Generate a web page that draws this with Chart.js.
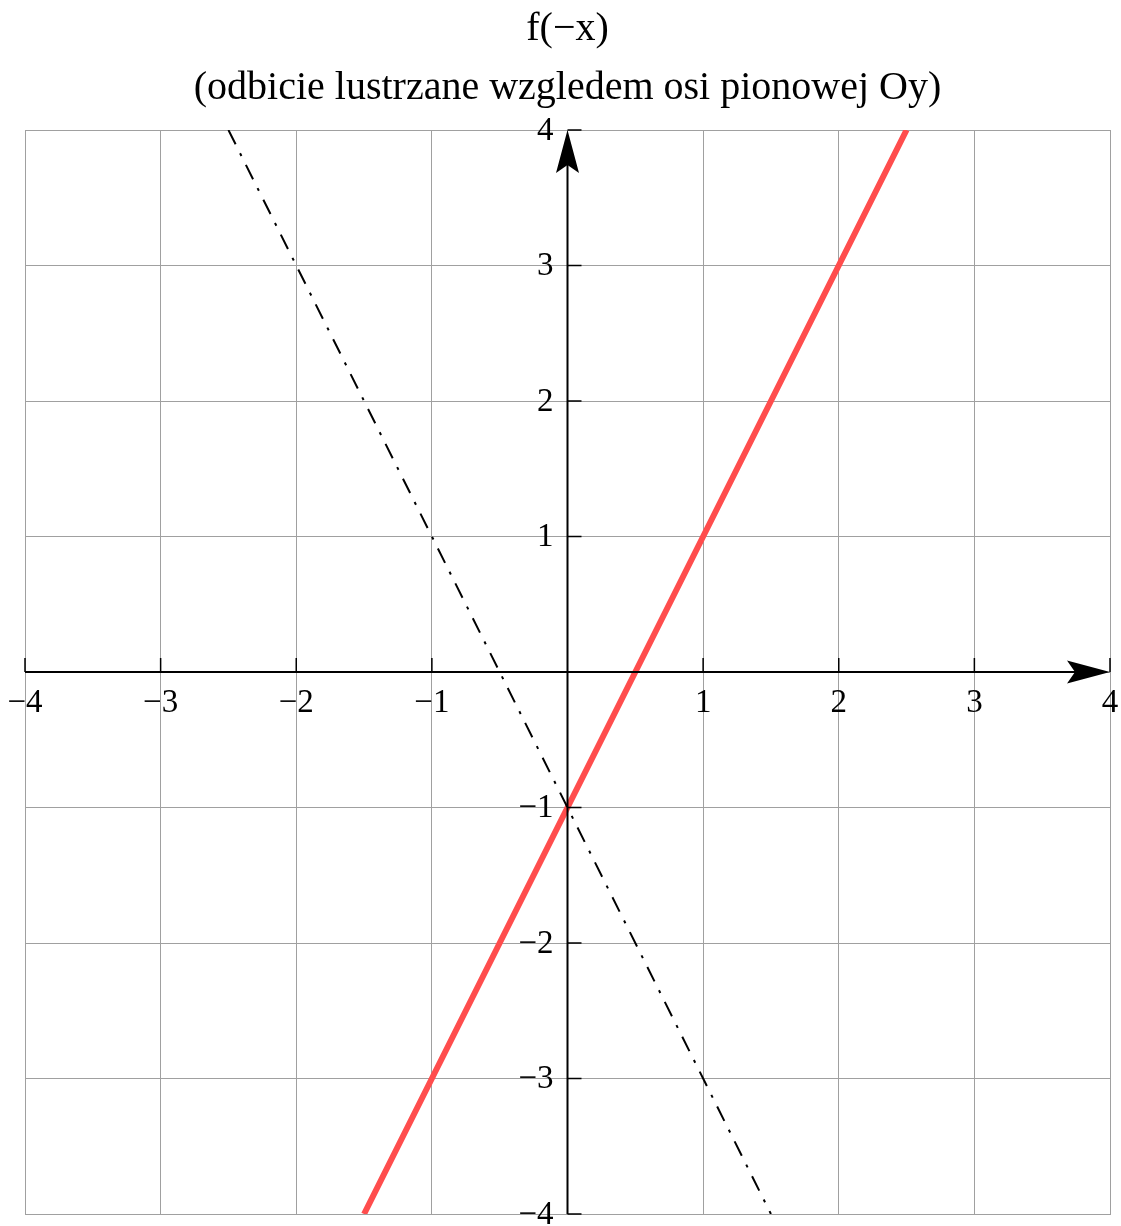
<!DOCTYPE html>
<html>
<head>
<meta charset="utf-8">
<script src="https://cdn.jsdelivr.net/npm/chart.js@4.4.1/dist/chart.umd.min.js"></script>
<style>
    html, body { margin: 0; padding: 0; background: #ffffff; }
    #wrap { width: 1121px; height: 1226px; position: relative; }
</style>
</head>
<body>
<div id="wrap"><canvas id="plot"></canvas></div>
<script>
// f(-x) = 2x - 1 (red) and the original f(x) = -2x - 1 (dash-dot)
const mirrored_x = [-1.5, -1, 0, 0.5, 1, 2, 2.5]
const mirrored_y = [-4, -3, -1, 0, 1, 3, 4]
const original_x = [-2.5, -2, -1, -0.5, 0, 1, 1.5]
const original_y = [4, 3, 1, 0, -1, -3, -4]

const x_ticks = [-4, -3, -2, -1, 1, 2, 3, 4]
const x_tick_labels = ["\u22124", "\u22123", "\u22122", "\u22121", "1", "2", "3", "4"]
const y_ticks = [-4, -3, -2, -1, 1, 2, 3, 4]
const y_tick_labels = ["\u22124", "\u22123", "\u22122", "\u22121", "1", "2", "3", "4"]

const title_lines = ["f(\u2212x)", "(odbicie lustrzane wzgledem osi pionowej Oy)"]

const serif = "'Liberation Serif', 'Times New Roman', serif"

function to_points(xs, ys)
{
    return xs.map((x, i) => ({ x: x, y: ys[i] }))
}

// Axes through the origin, with arrowheads, tick marks and labels
const center_axes = {
    id: "center_axes",
    afterDatasetsDraw(chart)
    {
        const ctx = chart.ctx
        const sx = chart.scales.x
        const sy = chart.scales.y
        const area = chart.chartArea
        const x0 = sx.getPixelForValue(0)
        const y0 = sy.getPixelForValue(0)

        ctx.save()
        ctx.strokeStyle = "#000"
        ctx.fillStyle = "#000"

        // axis lines
        ctx.lineWidth = 2
        ctx.beginPath()
        ctx.moveTo(area.left, y0)
        ctx.lineTo(area.right - 30, y0)
        ctx.moveTo(x0, area.bottom)
        ctx.lineTo(x0, area.top + 30)
        ctx.stroke()

        // arrowheads
        ctx.beginPath()
        ctx.moveTo(area.right, y0)
        ctx.lineTo(area.right - 43, y0 - 11.5)
        ctx.lineTo(area.right - 35, y0)
        ctx.lineTo(area.right - 43, y0 + 11.5)
        ctx.closePath()
        ctx.fill()
        ctx.beginPath()
        ctx.moveTo(x0, area.top)
        ctx.lineTo(x0 - 11.5, area.top + 43)
        ctx.lineTo(x0, area.top + 35)
        ctx.lineTo(x0 + 11.5, area.top + 43)
        ctx.closePath()
        ctx.fill()

        // tick marks
        ctx.lineWidth = 1.5
        ctx.beginPath()
        x_ticks.forEach(v => {
            const px = sx.getPixelForValue(v)
            ctx.moveTo(px, y0)
            ctx.lineTo(px, y0 - 14)
        })
        y_ticks.forEach(v => {
            const py = sy.getPixelForValue(v)
            ctx.moveTo(x0, py)
            ctx.lineTo(x0 + 14, py)
        })
        ctx.stroke()

        // tick labels
        ctx.font = "33px " + serif
        ctx.textBaseline = "middle"
        ctx.textAlign = "center"
        x_ticks.forEach((v, i) => {
            ctx.fillText(x_tick_labels[i], sx.getPixelForValue(v), y0 + 31)
        })
        ctx.textAlign = "right"
        y_ticks.forEach((v, i) => {
            ctx.fillText(y_tick_labels[i], x0 - 14, sy.getPixelForValue(v) + 1)
        })
        ctx.restore()
    }
}

new Chart(document.getElementById("plot").getContext("2d"), {
    type: "scatter",
    data: {
        datasets: [
            {
                label: "f(x)",
                data: to_points(original_x, original_y),
                showLine: true,
                borderColor: "#000000",
                borderWidth: 2,
                borderDash: [16, 10, 3, 10],
                pointRadius: 0,
                order: 1,
            },
            {
                label: "f(-x)",
                data: to_points(mirrored_x, mirrored_y),
                showLine: true,
                borderColor: "rgb(255, 77, 77)",
                borderWidth: 6,
                pointRadius: 0,
                order: 2,
            },
        ]
    },
    options: {
        responsive: true,
        maintainAspectRatio: false,
        animation: false,
        layout: {
            padding: { left: 25, right: 11, top: 0, bottom: 12 }
        },
        plugins: {
            legend: { display: false },
            tooltip: { enabled: false },
            title: {
                display: true,
                text: title_lines,
                color: "#000",
                font: { family: serif, size: 40, weight: "normal", lineHeight: 1.475 },
                padding: { top: 0, bottom: 12 },
            },
        },
        scales: {
            x: {
                type: "linear",
                min: -4,
                max: 4,
                ticks: { display: false, stepSize: 1 },
                grid: { color: "#a0a0a0", lineWidth: 1, drawTicks: false },
                border: { display: true, color: "#a0a0a0" },
            },
            y: {
                type: "linear",
                min: -4,
                max: 4,
                ticks: { display: false, stepSize: 1 },
                grid: { color: "#a0a0a0", lineWidth: 1, drawTicks: false },
                border: { display: true, color: "#a0a0a0" },
            },
        }
    },
    plugins: [center_axes]
})
</script>
</body>
</html>
